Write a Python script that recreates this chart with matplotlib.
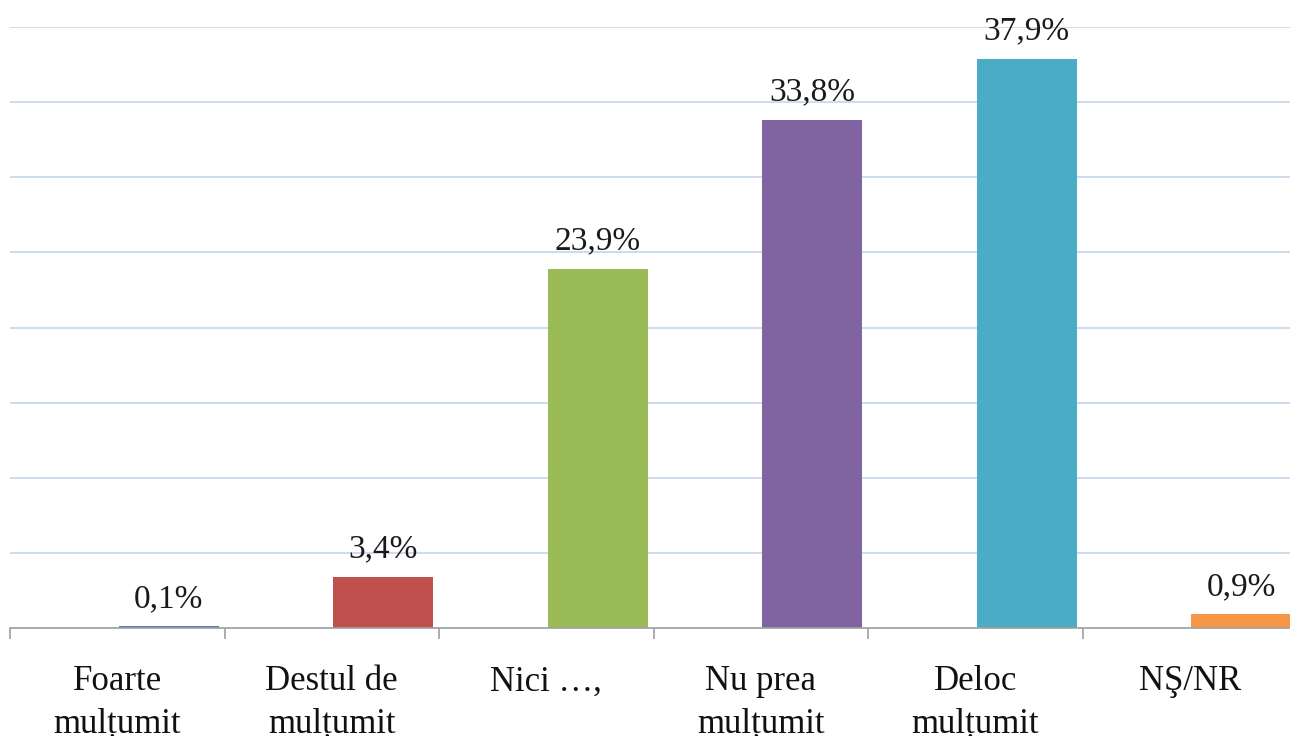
import matplotlib
matplotlib.use("Agg")
import matplotlib.pyplot as plt
import numpy as np

categorii = ["Foarte\nmulțumit", "Destul de\nmulțumit", "Nici …,", "Nu prea\nmulțumit", "Deloc\nmulțumit", "NŞ/NR"]
procente = [0.1, 3.4, 23.9, 33.8, 37.9, 0.9]
culori = ["#4f81bd", "#c0504d", "#9bbb59", "#8064a2", "#4bacc6", "#f79646"]

plt.rcParams['font.family'] = ['Liberation Serif', 'DejaVu Serif']

fig = plt.figure(figsize=(12.9, 7.36), dpi=100)
ax = fig.add_axes([10/1290, 1 - 628/736, 1287/1290, 601/736])

x = np.arange(len(categorii))
ax.bar(x + 0.24, procente, width=0.467, color=culori, zorder=2)

for xi, v in zip(x, procente):
    ax.text(xi + 0.24, v + 1.3, f"{v:.1f}%".replace(".", ","), ha="center", va="baseline",
            fontsize=24, color="#1a1a1a")

ax.set_xlim(-0.5, len(categorii) - 0.5)
ax.set_ylim(0, 40)
ax.set_yticks(np.arange(0, 41, 5))
ax.yaxis.grid(True, color="#c5d5ea", linewidth=1.2)
ax.set_axisbelow(True)
ax.tick_params(axis="y", left=False, labelleft=False)

ax.set_xticks(x)
ax.set_xticklabels(categorii, fontsize=25, color="#111111", linespacing=1.35)
ax.set_xticks(np.arange(-0.5, len(categorii)), minor=True)
ax.tick_params(axis="x", which="major", length=0, pad=27)
ax.tick_params(axis="x", which="minor", length=8, color="#a0a0a0", width=1.2)

for s in ["top", "right", "left"]:
    ax.spines[s].set_visible(False)
ax.spines["bottom"].set_color("#a0a0a0")
ax.spines["bottom"].set_linewidth(1.2)
ax.spines["bottom"].set_zorder(3)

fig.savefig("out.png", dpi=100)
